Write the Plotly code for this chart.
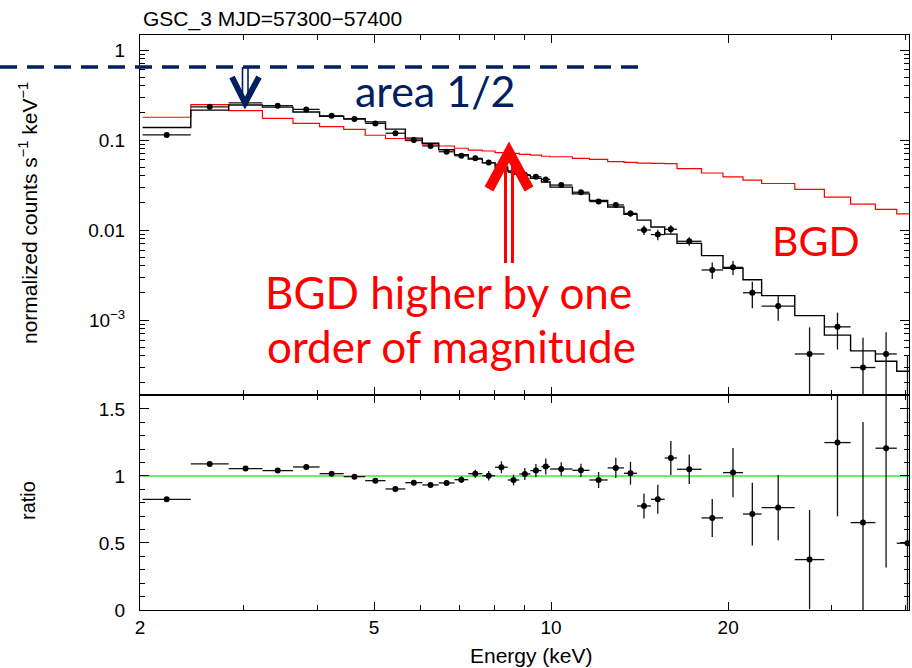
import math
import plotly.graph_objects as go

# ---------------- data ----------------
title_text = "GSC_3 MJD=57300−57400"

bin_edges = [2.02, 2.44, 2.83, 3.23, 3.64, 4.04, 4.44, 4.83, 5.23, 5.65, 6.04, 6.44,
             6.85, 7.23, 7.64, 8.03, 8.44, 8.83, 9.22, 9.63, 9.96, 10.87, 11.62, 12.48,
             13.3, 14.0, 14.78, 15.6, 16.37, 18.02, 19.6, 21.2, 22.8, 25.96, 29.15,
             32.3, 35.6, 38.7, 42.1]

counts = [0.114, 0.234, 0.258, 0.241, 0.219, 0.186, 0.171, 0.153, 0.119, 0.100,
          0.086, 0.0741, 0.0668, 0.0626, 0.0561, 0.0535, 0.0439, 0.0411, 0.0390,
          0.0365, 0.0316, 0.0263, 0.0207, 0.0190, 0.0153, 0.0100, 0.0089, 0.0102,
          0.0075, 0.0036, 0.00385, 0.00201, 0.00143, 0.00042, 0.00084, 0.000297,
          0.00042, 0.000135]

counts_err = [0.0017, 0.0026, 0.0028, 0.0028, 0.0027, 0.0024, 0.0024, 0.0024, 0.0021,
              0.0019, 0.0018, 0.0016, 0.0017, 0.0018, 0.0020, 0.0022, 0.0018, 0.0018,
              0.0018, 0.0020, 0.0015, 0.0013, 0.0013, 0.0013, 0.0013, 0.0012, 0.0012,
              0.0011, 0.0008, 0.00075, 0.00069, 0.00066, 0.00045, 0.00041, 0.00037,
              0.00034, 0.00031, 0.00027]

model = [0.138, 0.215, 0.245, 0.232, 0.205, 0.183, 0.172, 0.159, 0.132, 0.105, 0.092,
         0.078, 0.0687, 0.0616, 0.056, 0.0502, 0.0453, 0.0405, 0.0375, 0.0342, 0.030,
         0.0252, 0.0213, 0.0180, 0.0150, 0.0129, 0.0108, 0.0090, 0.0071, 0.0052,
         0.00376, 0.0028, 0.00187, 0.00112, 0.00068, 0.000455, 0.000348, 0.00027]

bgd = [0.179, 0.247, 0.212, 0.174, 0.153, 0.141, 0.131, 0.113, 0.104, 0.0986, 0.0902,
       0.0858, 0.081, 0.0774, 0.0755, 0.0724, 0.0712, 0.0694, 0.0681, 0.066, 0.0652,
       0.0626, 0.0608, 0.0575, 0.0565, 0.0553, 0.0551, 0.0548, 0.048, 0.043, 0.039,
       0.0359, 0.0329, 0.0283, 0.0232, 0.0194, 0.017, 0.0151]

ratio = [0.826, 1.09, 1.055, 1.04, 1.067, 1.017, 0.995, 0.965, 0.903, 0.95, 0.933,
         0.948, 0.972, 1.017, 1.002, 1.065, 0.97, 1.015, 1.04, 1.07, 1.052, 1.042,
         0.97, 1.06, 1.02, 0.776, 0.826, 1.134, 1.05, 0.687, 1.025, 0.716, 0.764,
         0.376, 1.249, 0.652, 1.207, 0.498]

ratio_err = [0.012, 0.012, 0.012, 0.012, 0.013, 0.013, 0.014, 0.015, 0.016, 0.018,
             0.02, 0.02, 0.025, 0.03, 0.035, 0.044, 0.04, 0.045, 0.05, 0.06, 0.05,
             0.05, 0.06, 0.075, 0.085, 0.093, 0.108, 0.127, 0.11, 0.142, 0.183, 0.234,
             0.243, 0.37, 0.55, 0.75, 0.89, 1.15]

x_tick_vals = [2, 5, 10, 20]
x_minor_vals = [3, 4, 6, 7, 8, 9, 30, 40]
y_tick_vals = [1e-3, 1e-2, 0.1, 1]
y_tick_text = ["10<sup>−3</sup>", "0.01", "0.1", "1"]
ratio_tick_vals = [0, 0.5, 1, 1.5]
ratio_tick_text = ["0", "0.5", "1", "1.5"]

x_range = [2, 40.6]
y_range = [1.47e-4, 1.468]
ratio_range = [0, 1.604]

# ---------------- derived positions ----------------
lo = bin_edges[:-1]
hi = bin_edges[1:]
centers = [math.sqrt(a * b) for a, b in zip(lo, hi)]
xerr_plus = [b - c for b, c in zip(hi, centers)]
xerr_minus = [c - a for a, c in zip(lo, centers)]

W, H = 912, 668
L, R, T, B = 140, 3, 35, 58
PW, PH = W - L - R, H - T - B
split = (H - B - 395) / PH


def P(x, y):
    return (x - L) / PW, (H - B - y) / PH


AX_FONT = dict(family="Liberation Sans, Arial, sans-serif", size=19, color="black")
TXT_FONT = "Lato, Open Sans, sans-serif"
NAVY = "#002060"
RED = "#ff0000"

fig = go.Figure()

step_x = list(bin_edges)
fig.add_trace(go.Scatter(x=step_x, y=bgd + [bgd[-1]], mode="lines", line_shape="hv",
                         line=dict(color=RED, width=1.2), xaxis="x", yaxis="y",
                         hoverinfo="skip", showlegend=False))
fig.add_trace(go.Scatter(x=step_x, y=model + [model[-1]], mode="lines", line_shape="hv",
                         line=dict(color="black", width=1.4), xaxis="x", yaxis="y",
                         hoverinfo="skip", showlegend=False))
fig.add_trace(go.Scatter(x=centers, y=counts, mode="markers",
                         marker=dict(color="black", size=6),
                         error_y=dict(type="data", array=counts_err, color="#111",
                                      thickness=1.3, width=0),
                         error_x=dict(type="data", symmetric=False, array=xerr_plus,
                                      arrayminus=xerr_minus, color="#111",
                                      thickness=1.3, width=0),
                         xaxis="x", yaxis="y", showlegend=False))
fig.add_trace(go.Scatter(x=centers, y=ratio, mode="markers",
                         marker=dict(color="black", size=6),
                         error_y=dict(type="data", array=ratio_err, color="#111",
                                      thickness=1.3, width=0),
                         error_x=dict(type="data", symmetric=False, array=xerr_plus,
                                      arrayminus=xerr_minus, color="#111",
                                      thickness=1.3, width=0),
                         xaxis="x2", yaxis="y2", showlegend=False))

common_axis = dict(showline=True, linecolor="black", linewidth=1, mirror="allticks",
                   ticks="inside", tickcolor="black", tickwidth=1, showgrid=False,
                   zeroline=False, tickfont=AX_FONT)

xr = [math.log10(x_range[0]), math.log10(x_range[1])]
fig.update_layout(
    width=W, height=H, margin=dict(l=L, r=R, t=T, b=B),
    paper_bgcolor="white", plot_bgcolor="white",
    xaxis=dict(type="log", range=xr, domain=[0, 1], anchor="y", matches="x2",
               tickmode="array", tickvals=x_tick_vals, showticklabels=False, ticklen=8,
               minor=dict(tickmode="array", tickvals=x_minor_vals, ticklen=5,
                          ticks="inside", tickcolor="black"),
               **common_axis),
    yaxis=dict(type="log", range=[math.log10(y_range[0]), math.log10(y_range[1])],
               domain=[split, 1], anchor="x", tickmode="array", tickvals=y_tick_vals,
               ticktext=y_tick_text, ticklen=9, ticklabelstandoff=10,
               minor=dict(tickmode="array",
                          tickvals=[m * 10 ** e for e in range(-4, 1) for m in range(2, 10)],
                          ticklen=5, ticks="inside", tickcolor="black"),
               **common_axis),
    xaxis2=dict(type="log", range=xr, domain=[0, 1], anchor="y2", tickmode="array",
                tickvals=x_tick_vals, ticktext=[str(v) for v in x_tick_vals], ticklen=8,
                minor=dict(tickmode="array", tickvals=x_minor_vals, ticklen=5,
                           ticks="inside", tickcolor="black"),
                **common_axis),
    yaxis2=dict(range=ratio_range, domain=[0, split], anchor="x2", tickmode="array",
                tickvals=ratio_tick_vals, ticktext=ratio_tick_text, ticklen=9,
                ticklabelstandoff=10,
                minor=dict(dtick=0.1, ticklen=5, ticks="inside", tickcolor="black"),
                **common_axis),
)

# green reference line at ratio = 1
fig.add_shape(type="line", xref="paper", x0=0, x1=1, yref="y2", y0=1, y1=1,
              line=dict(color="#33ee33", width=1.5), layer="below")

# ---------------- text ----------------
def ann(text, x, y, size, color, family, xanchor="center", yanchor="middle", angle=0):
    px, py = P(x, y)
    fig.add_annotation(text=text, x=px, y=py, xref="paper", yref="paper",
                       showarrow=False, xanchor=xanchor, yanchor=yanchor,
                       textangle=angle, font=dict(size=size, color=color, family=family))


SANS = "Liberation Sans, Arial, sans-serif"
ann(title_text, 141, 19, 21, "black", SANS, xanchor="left")
ann("normalized counts s<sup>−1</sup> keV<sup>−1</sup>", 28, 213, 21, "black", SANS, angle=-90)
ann("ratio", 28, 501, 20, "black", SANS, angle=-90)
ann("Energy (keV)", 531, 655, 21, "black", SANS)

ann("area 1/2", 435, 91, 43, NAVY, TXT_FONT)
ann("BGD", 816, 240, 41, RED, TXT_FONT)
ann("BGD higher by one", 263, 292, 44, RED, TXT_FONT, xanchor="left")
ann("order of magnitude", 265, 346, 44, RED, TXT_FONT, xanchor="left")

# ---------------- arrows / dashed line ----------------
def seg(x0, y0, x1, y1, color, width, dash=None):
    a, b = P(x0, y0)
    c, d = P(x1, y1)
    line = dict(color=color, width=width)
    if dash:
        line["dash"] = dash
    fig.add_shape(type="line", xref="paper", yref="paper", x0=a, y0=b, x1=c, y1=d,
                  line=line)


def poly(points, color, width):
    s = ""
    for i, (x, y) in enumerate(points):
        a, b = P(x, y)
        s += ("M" if i == 0 else "L") + f"{a},{b} "
    fig.add_shape(type="path", xref="paper", yref="paper", path=s.strip(),
                  line=dict(color=color, width=width))


seg(0, 67, 645, 67, NAVY, 3.5, dash="17px,10px")
# navy down arrow
seg(242.5, 67, 242.5, 99, NAVY, 1.6)
seg(248, 67, 248, 99, NAVY, 1.6)
poly([(232, 77), (245, 103), (259, 77)], NAVY, 6)
# red up arrow
seg(505.5, 160, 505.5, 263, RED, 3)
seg(512.5, 160, 512.5, 263, RED, 3)
poly([(489, 189), (509, 152), (529, 189)], RED, 10)

fig.write_html("out.html")
